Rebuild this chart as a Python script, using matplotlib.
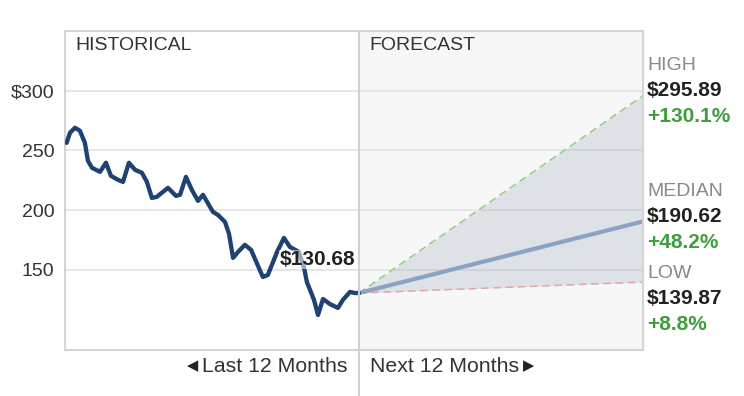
import matplotlib
matplotlib.use("Agg")
import matplotlib.pyplot as plt
from matplotlib.lines import Line2D

# ---- data ----
hist_months = [-12.35, -12.21, -12.00, -11.79, -11.58, -11.45, -11.28, -10.94, -10.69, -10.48,
               -10.18, -9.97, -9.72, -9.46, -9.17, -8.96, -8.75, -8.54, -8.07, -7.73,
               -7.56, -7.31, -7.06, -6.80, -6.59, -6.17, -5.96, -5.66, -5.49, -5.32,
               -5.11, -4.82, -4.56, -4.06, -3.85, -3.46, -3.17, -2.92, -2.54, -2.32,
               -2.20, -1.90, -1.73, -1.52, -1.23, -0.89, -0.68, -0.38, -0.17, 0.0]
hist_prices = [256.4, 264.8, 269.0, 266.5, 256.4, 241.3, 235.5, 232.1, 239.7, 228.8,
               225.4, 223.7, 239.7, 233.8, 231.3, 223.7, 210.3, 211.2, 218.7, 212.0,
               212.9, 227.9, 217.0, 207.8, 212.9, 198.6, 196.1, 190.2, 180.2, 160.1,
               165.1, 171.0, 166.8, 144.1, 145.8, 165.1, 176.8, 169.3, 165.1, 151.7,
               139.9, 124.9, 112.3, 125.7, 121.5, 118.2, 124.9, 131.6, 130.7, 130.68]
current_price = 130.68
forecast_months = [0, 12]
forecast_high = [current_price, 295.89]
forecast_median = [current_price, 190.62]
forecast_low = [current_price, 139.87]
forecast_labels = ["HIGH", "MEDIAN", "LOW"]
forecast_values = ["$295.89", "$190.62", "$139.87"]
forecast_changes = ["+130.1%", "+48.2%", "+8.8%"]
yticks = [150, 200, 250, 300]
ytick_labels = ["150", "200", "250", "$300"]

plt.rcParams['font.family'] = ['Liberation Sans', 'DejaVu Sans']

W, H = 744, 396
fig = plt.figure(figsize=(W / 100, H / 100), dpi=100)
L, R, T, B = 65, 643, 31, 350
ax = fig.add_axes([L / W, (H - B) / H, (R - L) / W, (B - T) / H])

ax.set_xlim(-12.42, 12)
ax.set_ylim(83, 350)

# backgrounds
ax.set_facecolor("white")
ax.axvspan(0, 12, color="#f7f7f7", zorder=0.2, lw=0)

# grid
for v in yticks:
    ax.axhline(v, color="#e6e6e6", lw=1.4, zorder=0.5)
ax.set_yticks(yticks)
ax.set_yticklabels(ytick_labels, fontsize=14, color="#333333")
ax.tick_params(axis="y", length=0, pad=7.5)
ax.set_xticks([])

for s in ax.spines.values():
    s.set_color("#d4d4d4")
    s.set_linewidth(1.5)

# forecast cone
ax.fill_between(forecast_months, forecast_low, forecast_high, color="#7a8fa8", alpha=0.2,
                lw=0, zorder=1)
ax.plot(forecast_months, forecast_high, color="#8fcf7f", lw=1.1, ls=(0, (5, 3)), zorder=2)
ax.plot(forecast_months, forecast_low, color="#e8a3a3", lw=1.1, ls=(0, (5, 3)), zorder=2)
ax.plot(forecast_months, forecast_median, color="#8ba3c0", lw=3.0, zorder=2.5,
        solid_capstyle="butt")

# historical
ax.plot(hist_months, hist_prices, color="#1e4272", lw=3.1, zorder=3,
        solid_joinstyle="round", solid_capstyle="round")

# divider
ax.add_line(Line2D([0, 0], [-0.145, 1], transform=ax.get_xaxis_transform(),
                   color="#d0d0d0", lw=1.5, clip_on=False, zorder=4))

# current price label
ax.text(-0.17, 158.4, "$%.2f" % current_price, ha="right", va="center", fontsize=15,
        fontweight="bold", color="#222222", zorder=5,
        bbox=dict(facecolor="white", alpha=0.55, edgecolor="none", pad=0))

# section titles
fig.text(75 / W, 1 - 46 / H, "HISTORICAL", fontsize=14, color="#333333", va="center")
fig.text(369 / W, 1 - 45 / H, "FORECAST", fontsize=14, color="#333333", va="center")

# right labels
label_rows = [(65, 91, 117), (192, 217, 243), (274, 298, 324)]
for (y1, y2, y3), lab, val, chg in zip(label_rows, forecast_labels, forecast_values,
                                       forecast_changes):
    fig.text(647 / W, 1 - y1 / H, lab, fontsize=14, color="#888888", va="center")
    fig.text(647 / W, 1 - y2 / H, val, fontsize=15, fontweight="bold", color="#222222",
             va="center")
    fig.text(647 / W, 1 - y3 / H, chg, fontsize=15, fontweight="bold", color="#3e9e3e",
             va="center")

# bottom labels
fig.text(348 / W, 1 - 367 / H, "Last 12 Months", fontsize=15.3, color="#333333",
         ha="right", va="center")
fig.text(198 / W, 1 - 366 / H, "\u25c0", fontsize=10.5, color="#222222",
         ha="right", va="center", family="DejaVu Sans")
fig.text(370 / W, 1 - 367 / H, "Next 12 Months", fontsize=15.3, color="#333333",
         ha="left", va="center")
fig.text(523 / W, 1 - 366 / H, "\u25b6", fontsize=10.5, color="#222222",
         ha="left", va="center", family="DejaVu Sans")

fig.savefig("out.png", dpi=100)
